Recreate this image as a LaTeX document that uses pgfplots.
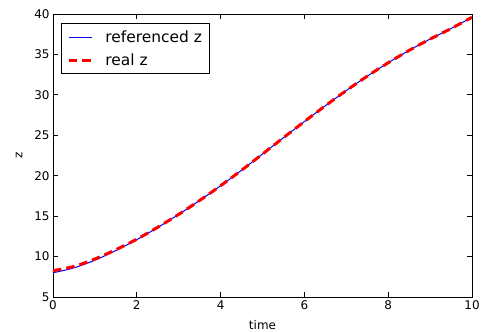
\documentclass[border=0pt]{standalone}
\usepackage{fontspec}
\setmainfont{DejaVu Sans}
\usepackage{pgfplots}
\pgfplotsset{compat=1.18}
\begin{document}
\begin{tikzpicture}
\begin{axis}[
  scale only axis, width=419bp, height=283bp,
  xmin=0, xmax=10, ymin=5, ymax=40,
  xtick={0,2,4,6,8,10}, ytick={5,10,15,20,25,30,35,40},
  tick align=inside, major tick length=5bp,
  axis line style={line width=0.9bp, black},
  tick style={line width=0.8bp, black},
  /pgf/number format/assume math mode=true,
  tick label style={font=\fontsize{12}{14}\selectfont},
  label style={font=\fontsize{12}{14}\selectfont},
  xlabel={time}, ylabel={z},
  xlabel style={yshift=-4bp},
  ylabel style={yshift=5bp},
  legend cell align=left,
  legend image code/.code={\draw[#1] (0bp,0bp) -- (23bp,0bp);},
  legend style={at={(0.019,0.968)}, anchor=north west, draw=black, line width=1bp,
    font=\fontsize{15.5}{18}\selectfont, inner xsep=6bp, inner ysep=5bp,
    row sep=6bp, column sep=10bp},
]
\addplot[color=blue, line width=1bp, smooth] coordinates {
(0,8.0) (0.5,8.6) (1,9.55) (1.5,10.75) (2,12.1) (2.5,13.6) (3,15.22) (3.5,16.94)
(4,18.76) (4.5,20.68) (5,22.68) (5.5,24.7) (6,26.7) (6.5,28.65) (7,30.53)
(7.5,32.31) (8,33.97) (8.5,35.5) (9,36.9) (9.5,38.2) (10,39.6)};
\addlegendentry{referenced z}
\addplot[color=red, line width=3bp, dash pattern=on 8.5bp off 5bp, smooth] coordinates {
(0,8.25) (0.5,8.78) (1,9.7) (1.5,10.85) (2,12.15) (2.5,13.63) (3,15.22) (3.5,16.94)
(4,18.76) (4.5,20.68) (5,22.68) (5.5,24.7) (6,26.7) (6.5,28.65) (7,30.53)
(7.5,32.31) (8,33.97) (8.5,35.5) (9,36.9) (9.5,38.2) (10,39.6)};
\addlegendentry{real z}
\coordinate (bl) at (rel axis cs:0,0);
\coordinate (tr) at (rel axis cs:1,1);
\end{axis}
\pgfresetboundingbox
\useasboundingbox ([shift={(-53bp,-35bp)}]bl) rectangle ([shift={(12bp,14bp)}]tr);
\end{tikzpicture}
\end{document}
